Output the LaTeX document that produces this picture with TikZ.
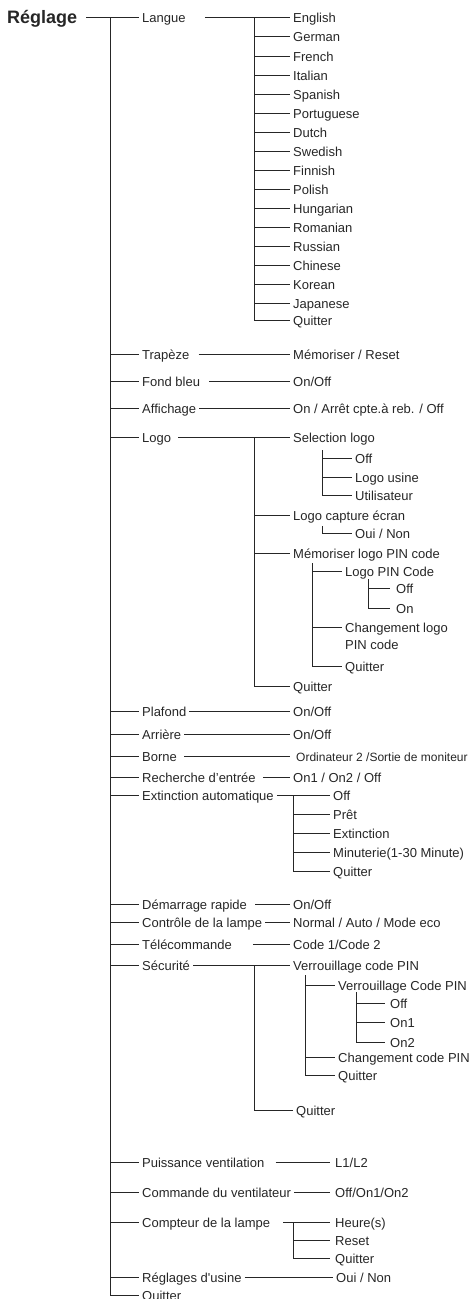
\documentclass[tikz,border=0pt]{standalone}
\usepackage{fontspec}
\setmainfont{Liberation Sans}
\usetikzlibrary{positioning, calc}
\definecolor{menugray}{HTML}{262626}
\tikzset{
	menunode/.style={
			anchor=west,
			inner xsep=3pt,
			inner ysep=0pt,
			text height=10pt,
			text depth=0pt,
			text=menugray,
			font=\fontsize{13}{17}\selectfont
		},
	rootnode/.style={
			menunode,
			text height=13pt,
			font=\fontsize{18}{20}\selectfont\bfseries
		},
	smallnode/.style={
			menunode,
			font=\fontsize{12}{15}\selectfont
		},
	twolinenode/.style={
			anchor=north west,
			inner xsep=3pt,
			inner ysep=0pt,
			align=left,
			text=menugray,
			font=\fontsize{13}{17}\selectfont
		},
	treeline/.style={
			draw=menugray,
			line width=0.9pt
		}
}

\begin{document}
\begin{tikzpicture}[x=1pt, y=-1pt]
\useasboundingbox (0,0) rectangle (473,1299);

% root and first level
\node[rootnode] (reglage) at (4,17) {Réglage};
\node[menunode] (langue) at (139,17) {Langue};
\node[menunode] (trapeze) at (139,354) {Trapèze};
\node[menunode] (fondbleu) at (139,381) {Fond bleu};
\node[menunode] (affichage) at (139,408) {Affichage};
\node[menunode] (logo) at (139,437) {Logo};
\node[menunode] (plafond) at (139,711) {Plafond};
\node[menunode] (arriere) at (139,734) {Arrière};
\node[menunode] (borne) at (139,756) {Borne};
\node[menunode] (recherche) at (139,777) {Recherche d’entrée};
\node[menunode] (extinction) at (139,795) {Extinction automatique};
\node[menunode] (demarrage) at (139,904) {Démarrage rapide};
\node[menunode] (controle) at (139,922) {Contrôle de la lampe};
\node[menunode] (telecommande) at (139,944) {Télécommande};
\node[menunode] (securite) at (139,965) {Sécurité};
\node[menunode] (puissance) at (139,1162) {Puissance ventilation};
\node[menunode] (commande) at (139,1192) {Commande du ventilateur};
\node[menunode] (compteur) at (139,1222) {Compteur de la lampe};
\node[menunode] (usine) at (139,1277) {Réglages d\textquotesingle usine};
\node[menunode] (quitter) at (139,1295) {Quitter};

% languages
\node[menunode] (english) at (290,17) {English};
\node[menunode] (german) at (290,36) {German};
\node[menunode] (french) at (290,56) {French};
\node[menunode] (italian) at (290,75) {Italian};
\node[menunode] (spanish) at (290,94) {Spanish};
\node[menunode] (portuguese) at (290,113) {Portuguese};
\node[menunode] (dutch) at (290,132) {Dutch};
\node[menunode] (swedish) at (290,151) {Swedish};
\node[menunode] (finnish) at (290,170) {Finnish};
\node[menunode] (polish) at (290,189) {Polish};
\node[menunode] (hungarian) at (290,208) {Hungarian};
\node[menunode] (romanian) at (290,227) {Romanian};
\node[menunode] (russian) at (290,246) {Russian};
\node[menunode] (chinese) at (290,265) {Chinese};
\node[menunode] (korean) at (290,284) {Korean};
\node[menunode] (japanese) at (290,303) {Japanese};
\node[menunode] (langquit) at (290,320) {Quitter};

% second level
\node[menunode] (memreset) at (290,354) {Mémoriser / Reset};
\node[menunode] (fondopt) at (290,381) {On/Off};
\node[menunode] (affopt) at (290,408) {On / Arrêt cpte.à reb. / Off};
\node[menunode] (sellogo) at (290,437) {Selection logo};
\node[menunode] (capture) at (290,515) {Logo capture écran};
\node[menunode] (mempin) at (290,553) {Mémoriser logo PIN code};
\node[menunode] (logoquit) at (290,686) {Quitter};
\node[menunode] (plafopt) at (290,711) {On/Off};
\node[menunode] (arropt) at (290,734) {On/Off};
\node[smallnode] (borneopt) at (293,756) {Ordinateur 2 /Sortie de moniteur};
\node[menunode] (rechopt) at (290,777) {On1 / On2 / Off};
\node[menunode] (demopt) at (290,904) {On/Off};
\node[menunode] (ctlopt) at (290,922) {Normal / Auto / Mode eco};
\node[menunode] (telopt) at (290,944) {Code 1/Code 2};
\node[menunode] (verrpin) at (290,965) {Verrouillage code PIN};
\node[menunode] (secquit) at (293,1110) {Quitter};

% logo sub menus
\node[menunode] (logooff) at (352,458) {Off};
\node[menunode] (logousine) at (352,477) {Logo usine};
\node[menunode] (logoutil) at (352,495) {Utilisateur};
\node[menunode] (ouinon) at (352,533) {Oui / Non};
\node[menunode] (logopin) at (342,571) {Logo PIN Code};
\node[menunode] (pinoff) at (393,588) {Off};
\node[menunode] (pinon) at (393,608) {On};
\node[twolinenode] (chg) at (342,622.5) {Changement logo\\PIN code};
\node[menunode] (mpinquit) at (342,666) {Quitter};

% extinction
\node[menunode] (extoff) at (330,795) {Off};
\node[menunode] (extpret) at (330,814) {Prêt};
\node[menunode] (extext) at (330,833) {Extinction};
\node[menunode] (extmin) at (330,852) {Minuterie(1-30 Minute)};
\node[menunode] (extquit) at (330,871) {Quitter};

% securite sub menus
\node[menunode] (verrcode) at (335,985) {Verrouillage Code PIN};
\node[menunode] (voff) at (387,1003) {Off};
\node[menunode] (von1) at (387,1022) {On1};
\node[menunode] (von2) at (387,1042) {On2};
\node[menunode] (chgcode) at (335,1057) {Changement code PIN};
\node[menunode] (verrquit) at (335,1075) {Quitter};

% last items
\node[menunode] (l1l2) at (332,1162) {L1/L2};
\node[menunode] (ventopt) at (332,1192) {Off/On1/On2};
\node[menunode] (heure) at (332,1222) {Heure(s)};
\node[menunode] (cptreset) at (332,1240) {Reset};
\node[menunode] (cptquit) at (332,1258) {Quitter};
\node[menunode] (usineopt) at (333,1277) {Oui / Non};

% main bus
\coordinate (mainbus) at (110,17);
\draw[treeline, shorten <=6pt] (reglage.east) -- (langue.west);
\draw[treeline] (mainbus) |- (quitter.west);
\draw[treeline] (mainbus |- trapeze.west) -- (trapeze.west);
\draw[treeline] (mainbus |- fondbleu.west) -- (fondbleu.west);
\draw[treeline] (mainbus |- affichage.west) -- (affichage.west);
\draw[treeline] (mainbus |- logo.west) -- (logo.west);
\draw[treeline] (mainbus |- plafond.west) -- (plafond.west);
\draw[treeline] (mainbus |- arriere.west) -- (arriere.west);
\draw[treeline] (mainbus |- borne.west) -- (borne.west);
\draw[treeline] (mainbus |- recherche.west) -- (recherche.west);
\draw[treeline] (mainbus |- extinction.west) -- (extinction.west);
\draw[treeline] (mainbus |- demarrage.west) -- (demarrage.west);
\draw[treeline] (mainbus |- controle.west) -- (controle.west);
\draw[treeline] (mainbus |- telecommande.west) -- (telecommande.west);
\draw[treeline] (mainbus |- securite.west) -- (securite.west);
\draw[treeline] (mainbus |- puissance.west) -- (puissance.west);
\draw[treeline] (mainbus |- commande.west) -- (commande.west);
\draw[treeline] (mainbus |- compteur.west) -- (compteur.west);
\draw[treeline] (mainbus |- usine.west) -- (usine.west);

% languages
\coordinate (langbus) at (254,17);
\draw[treeline, shorten <=16pt] (langue.east) -- (english.west);
\draw[treeline] (langbus) |- (langquit.west);
\draw[treeline] (langbus |- german.west) -- (german.west);
\draw[treeline] (langbus |- french.west) -- (french.west);
\draw[treeline] (langbus |- italian.west) -- (italian.west);
\draw[treeline] (langbus |- spanish.west) -- (spanish.west);
\draw[treeline] (langbus |- portuguese.west) -- (portuguese.west);
\draw[treeline] (langbus |- dutch.west) -- (dutch.west);
\draw[treeline] (langbus |- swedish.west) -- (swedish.west);
\draw[treeline] (langbus |- finnish.west) -- (finnish.west);
\draw[treeline] (langbus |- polish.west) -- (polish.west);
\draw[treeline] (langbus |- hungarian.west) -- (hungarian.west);
\draw[treeline] (langbus |- romanian.west) -- (romanian.west);
\draw[treeline] (langbus |- russian.west) -- (russian.west);
\draw[treeline] (langbus |- chinese.west) -- (chinese.west);
\draw[treeline] (langbus |- korean.west) -- (korean.west);
\draw[treeline] (langbus |- japanese.west) -- (japanese.west);

% simple options
\draw[treeline, shorten <=6pt] (trapeze.east) -- (memreset.west);
\draw[treeline, shorten <=6pt] (fondbleu.east) -- (fondopt.west);
\draw[treeline] (affichage.east) -- (affopt.west);
\draw[treeline] (plafond.east) -- (plafopt.west);
\draw[treeline] (arriere.east) -- (arropt.west);
\draw[treeline, shorten <=4pt, shorten >=3pt] (borne.east) -- (borneopt.west);
\draw[treeline, shorten <=4pt] (recherche.east) -- (rechopt.west);
\draw[treeline, shorten <=5pt] (demarrage.east) -- (demopt.west);
\draw[treeline] (controle.east) -- (ctlopt.west);
\draw[treeline, shorten <=18pt] (telecommande.east) -- (telopt.west);
\draw[treeline, shorten <=8pt, shorten >=2pt] (puissance.east) -- (l1l2.west);
\draw[treeline, shorten >=2pt] (commande.east) -- (ventopt.west);
\draw[treeline] (usine.east) -- (usineopt.west);

% logo
\coordinate (logobus) at (254,437);
\draw[treeline, shorten <=4pt] (logo.east) -- (sellogo.west);
\draw[treeline] (logobus) |- (logoquit.west);
\draw[treeline] (logobus |- capture.west) -- (capture.west);
\draw[treeline] (logobus |- mempin.west) -- (mempin.west);
\coordinate (selbus) at (322,450);
\draw[treeline] (selbus) |- (logoutil.west);
\draw[treeline] (selbus |- logooff.west) -- (logooff.west);
\draw[treeline] (selbus |- logousine.west) -- (logousine.west);
\coordinate (capbus) at (322,526);
\draw[treeline] (capbus) |- (ouinon.west);
\coordinate (pinbus) at (312,563);
\coordinate (chgpt) at ([yshift=-4.5pt]chg.north west);
\draw[treeline] (pinbus) |- (mpinquit.west);
\draw[treeline] (pinbus |- logopin.west) -- (logopin.west);
\draw[treeline] (pinbus |- chgpt) -- (chgpt);
\coordinate (lpbus) at (368,579);
\draw[treeline, shorten >=3pt] (lpbus) |- (pinon.west);
\draw[treeline, shorten >=3pt] (lpbus |- pinoff.west) -- (pinoff.west);

% extinction
\coordinate (extbus) at (293,795);
\draw[treeline] (extinction.east) -- (extoff.west);
\draw[treeline] (extbus) |- (extquit.west);
\draw[treeline] (extbus |- extpret.west) -- (extpret.west);
\draw[treeline] (extbus |- extext.west) -- (extext.west);
\draw[treeline] (extbus |- extmin.west) -- (extmin.west);

% securite
\coordinate (secbus) at (254,965);
\draw[treeline] (securite.east) -- (verrpin.west);
\draw[treeline] (secbus) |- (secquit.west);
\coordinate (verrbus) at (305,975);
\draw[treeline] (verrbus) |- (verrquit.west);
\draw[treeline] (verrbus |- verrcode.west) -- (verrcode.west);
\draw[treeline] (verrbus |- chgcode.west) -- (chgcode.west);
\coordinate (vcbus) at (356,992);
\draw[treeline, shorten >=2pt] (vcbus) |- (von2.west);
\draw[treeline, shorten >=2pt] (vcbus |- voff.west) -- (voff.west);
\draw[treeline, shorten >=2pt] (vcbus |- von1.west) -- (von1.west);

% compteur
\coordinate (cptbus) at (293,1222);
\draw[treeline, shorten <=10pt, shorten >=2pt] (compteur.east) -- (heure.west);
\draw[treeline, shorten >=2pt] (cptbus) |- (cptquit.west);
\draw[treeline, shorten >=2pt] (cptbus |- cptreset.west) -- (cptreset.west);
\end{tikzpicture}
\end{document}
